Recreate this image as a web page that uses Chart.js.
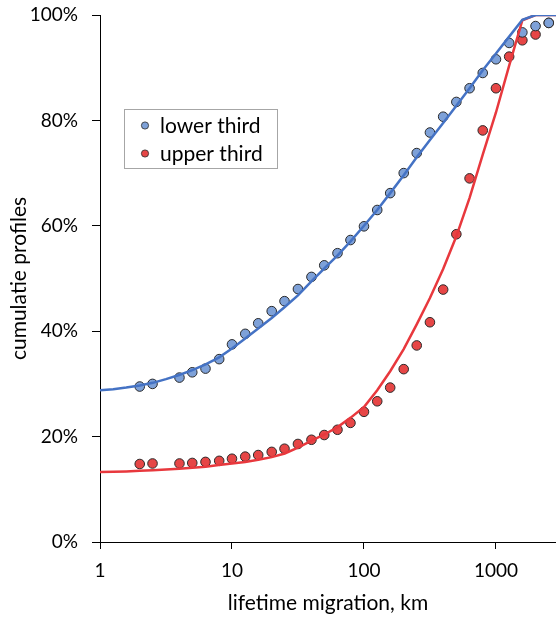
<!DOCTYPE html>
<html>
<head>
<meta charset="utf-8">
<script src="https://cdn.jsdelivr.net/npm/chart.js@4/dist/chart.umd.min.js"></script>
<style>
  html, body { margin: 0; padding: 0; background: #ffffff; }
  #wrap { width: 556px; height: 619px; position: relative; }
</style>
</head>
<body>
<div id="wrap"><canvas id="c" width="556" height="619"></canvas></div>
<script>
// Observed distances (km) of the binned data points
const obsKm = [2, 2.5, 4, 5, 6.3, 8, 10, 12.6, 15.8, 20, 25, 31.6, 40, 50, 63, 79, 100,
  126, 158, 200, 251, 316, 398, 501, 631, 794, 1000, 1259, 1585, 1995, 2512];

// Cumulative share (%) - lower third
const lowerObs = [29.5, 30.0, 31.2, 32.2, 32.9, 34.7, 37.5, 39.5, 41.5, 43.8, 45.7, 48.0, 50.3,
  52.5, 54.8, 57.3, 59.9, 63.0, 66.2, 70.0, 73.8, 77.7, 80.7, 83.5, 86.1, 89.0, 91.6,
  94.7, 96.7, 97.9, 98.5];

// Cumulative share (%) - upper third
const upperObs = [14.8, 14.9, 14.9, 15.0, 15.2, 15.4, 15.8, 16.2, 16.5, 17.1, 17.7, 18.6, 19.4,
  20.3, 21.3, 22.6, 24.7, 26.7, 29.3, 32.8, 37.3, 41.7, 47.9, 58.4, 69.0, 78.1, 86.1,
  92.1, 95.2, 96.3, 98.5];

// Distances (km) at which the fitted profiles are evaluated
const fitKm = [1, 1.26, 1.58, 2, 2.51, 3.16, 3.98, 5.01, 6.31, 7.94, 10, 12.6, 15.8, 20, 25.1,
  31.6, 39.8, 50.1, 63.1, 79.4, 100, 126, 158, 200, 251, 316, 398, 501, 631, 794, 1000,
  1259, 1585, 1995, 2512, 3162];

// Fitted cumulative profile (%) - lower third
const lowerFit = [28.8, 29.0, 29.3, 29.7, 30.2, 30.9, 31.7, 32.6, 33.7, 35.0, 36.7, 38.6, 40.5,
  42.5, 44.6, 46.8, 49.4, 51.9, 54.4, 57.1, 60.0, 63.0, 66.2, 69.6, 73.0, 76.3, 79.5,
  82.8, 86.1, 89.5, 92.7, 95.9, 99.1, 100, 100, 100];

// Fitted cumulative profile (%) - upper third
const upperFit = [13.3, 13.35, 13.4, 13.5, 13.6, 13.75, 13.9, 14.1, 14.3, 14.6, 14.9, 15.2, 15.6,
  16.1, 16.8, 17.9, 19.2, 20.4, 21.8, 23.6, 25.6, 28.8, 32.4, 36.6, 41.3, 46.3, 51.8,
  58.0, 65.3, 73.5, 81.5, 90.4, 99.0, 100, 100, 100];

const xTicks = [1, 10, 100, 1000];
const seriesNames = ['lower third', 'upper third'];

const FONT = 'Lato, "Open Sans", "DejaVu Sans", sans-serif';
const BLUE_LINE = '#4472C4', RED_LINE = '#E8383D';
const BLUE_DOT = '#7EA1D8', RED_DOT = '#E64646';
const DOT_EDGE = '#2a2a2a';

const pts = (xs, ys) => xs.map((x, i) => ({ x: x, y: ys[i] }));

// Framed legend drawn inside the plot area
const innerLegend = {
  id: 'innerLegend',
  afterDatasetsDraw(chart) {
    const ctx = chart.ctx, a = chart.chartArea;
    const bx = a.left + 24.5, by = a.top + 94.5, bw = 153, bh = 59;
    ctx.save();
    ctx.fillStyle = '#ffffff';
    ctx.fillRect(bx, by, bw, bh);
    ctx.strokeStyle = '#a6a6a6';
    ctx.lineWidth = 1;
    ctx.strokeRect(bx, by, bw, bh);
    const items = chart.data.datasets.filter(d => d.showInLegend);
    items.forEach((d, i) => {
      const cy = by + 16 + i * 28;
      ctx.beginPath();
      ctx.arc(bx + 20.5, cy, 3.6, 0, Math.PI * 2);
      ctx.fillStyle = d.backgroundColor;
      ctx.fill();
      ctx.lineWidth = 0.8;
      ctx.strokeStyle = DOT_EDGE;
      ctx.stroke();
      ctx.fillStyle = '#000000';
      ctx.font = '21px ' + FONT;
      ctx.textBaseline = 'middle';
      ctx.textAlign = 'left';
      ctx.fillText(d.label, bx + 35.5, cy + 1);
    });
    ctx.restore();
  }
};

new Chart(document.getElementById('c'), {
  type: 'scatter',
  data: {
    datasets: [
      { label: 'lower fit', data: pts(fitKm, lowerFit), showLine: true, borderColor: BLUE_LINE,
        borderWidth: 2.5, pointRadius: 0, tension: 0, fill: false },
      { label: 'upper fit', data: pts(fitKm, upperFit), showLine: true, borderColor: RED_LINE,
        borderWidth: 2.5, pointRadius: 0, tension: 0, fill: false },
      { label: seriesNames[0], showInLegend: true, data: pts(obsKm, lowerObs),
        backgroundColor: BLUE_DOT, borderColor: DOT_EDGE, borderWidth: 1, pointRadius: 4.8 },
      { label: seriesNames[1], showInLegend: true, data: pts(obsKm, upperObs),
        backgroundColor: RED_DOT, borderColor: DOT_EDGE, borderWidth: 1, pointRadius: 4.8 }
    ]
  },
  options: {
    responsive: false,
    animation: false,
    events: [],
    layout: { autoPadding: false, padding: { top: 15, right: 0, bottom: 0, left: 0 } },
    plugins: { legend: { display: false }, tooltip: { enabled: false } },
    scales: {
      x: {
        type: 'logarithmic',
        min: 1,
        max: 2850,
        afterBuildTicks: s => { s.ticks = xTicks.map(v => ({ value: v })); },
        afterFit: s => { s.height = 77; s.paddingLeft = 0; s.paddingRight = 0; },
        border: { display: true, color: '#000000', width: 1 },
        grid: { display: true, drawOnChartArea: false, drawTicks: true, tickLength: 7,
                color: '#000000', lineWidth: 1 },
        ticks: { color: '#000000', font: { family: FONT, size: 19 }, padding: 10,
                 maxRotation: 0, autoSkip: false, callback: v => String(v) },
        title: { display: true, text: 'lifetime migration, km', color: '#000000',
                 font: { family: FONT, size: 21 }, padding: { top: 0, bottom: 3 } }
      },
      y: {
        min: 0,
        max: 100,
        afterFit: s => { s.width = 100; s.paddingTop = 0; s.paddingBottom = 0; },
        border: { display: true, color: '#000000', width: 1 },
        grid: { display: true, drawOnChartArea: false, drawTicks: true, tickLength: 8,
                color: '#000000', lineWidth: 1 },
        ticks: { stepSize: 20, color: '#000000', font: { family: FONT, size: 19 }, padding: 14,
                 callback: v => v + '%' },
        title: { display: true, text: 'cumulatie profiles', color: '#000000',
                 font: { family: FONT, size: 21 }, padding: { top: 7, bottom: 0 } }
      }
    }
  },
  plugins: [innerLegend]
});
</script>
</body>
</html>
